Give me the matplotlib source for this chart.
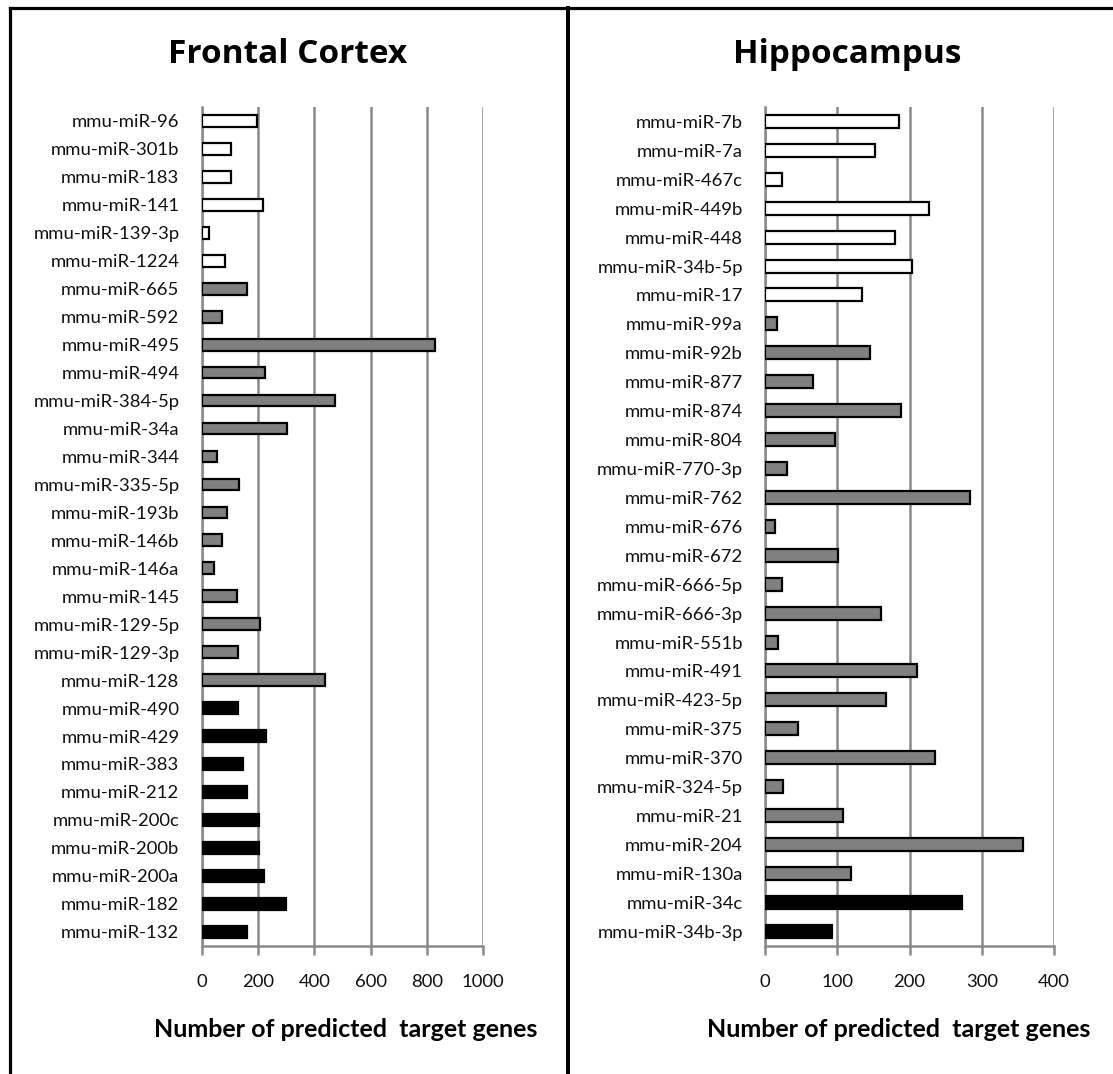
import matplotlib
matplotlib.use("Agg")
import matplotlib.pyplot as plt
from matplotlib.lines import Line2D

# ---------------- data ----------------
fc_labels = ["mmu-miR-96", "mmu-miR-301b", "mmu-miR-183", "mmu-miR-141", "mmu-miR-139-3p",
             "mmu-miR-1224", "mmu-miR-665", "mmu-miR-592", "mmu-miR-495", "mmu-miR-494",
             "mmu-miR-384-5p", "mmu-miR-34a", "mmu-miR-344", "mmu-miR-335-5p", "mmu-miR-193b",
             "mmu-miR-146b", "mmu-miR-146a", "mmu-miR-145", "mmu-miR-129-5p", "mmu-miR-129-3p",
             "mmu-miR-128", "mmu-miR-490", "mmu-miR-429", "mmu-miR-383", "mmu-miR-212",
             "mmu-miR-200c", "mmu-miR-200b", "mmu-miR-200a", "mmu-miR-182", "mmu-miR-132"]
fc_values = [195, 104, 104, 219, 27, 83, 162, 71, 828, 225,
             473, 304, 55, 134, 89, 71, 45, 124, 207, 130,
             438, 130, 227, 148, 160, 203, 203, 221, 299, 160]
fc_groups = ["w"] * 6 + ["g"] * 15 + ["k"] * 9

hc_labels = ["mmu-miR-7b", "mmu-miR-7a", "mmu-miR-467c", "mmu-miR-449b", "mmu-miR-448",
             "mmu-miR-34b-5p", "mmu-miR-17", "mmu-miR-99a", "mmu-miR-92b", "mmu-miR-877",
             "mmu-miR-874", "mmu-miR-804", "mmu-miR-770-3p", "mmu-miR-762", "mmu-miR-676",
             "mmu-miR-672", "mmu-miR-666-5p", "mmu-miR-666-3p", "mmu-miR-551b", "mmu-miR-491",
             "mmu-miR-423-5p", "mmu-miR-375", "mmu-miR-370", "mmu-miR-324-5p", "mmu-miR-21",
             "mmu-miR-204", "mmu-miR-130a", "mmu-miR-34c", "mmu-miR-34b-3p"]
hc_values = [185, 152, 23, 227, 180, 203, 134, 16, 145, 67,
             188, 97, 30, 284, 14, 101, 23, 161, 18, 210,
             167, 45, 235, 25, 108, 357, 119, 273, 93]
hc_groups = ["w"] * 7 + ["g"] * 20 + ["k"] * 2

fc_ticks = [0, 200, 400, 600, 800, 1000]
hc_ticks = [0, 100, 200, 300, 400]

titles = ["Frontal Cortex", "Hippocampus"]
xlabel = "Number of predicted  target genes"

group_colors = {"w": "#ffffff", "g": "#808080", "k": "#000000"}

# ---------------- figure ----------------
W, H = 1113, 1074
fig = plt.figure(figsize=(W / 100, H / 100), dpi=100)
plt.rcParams["font.family"] = ["Lato", "DejaVu Sans"]

def px_ax(x0, x1, y0, y1):
    return [x0 / W, 1 - y1 / H, (x1 - x0) / W, (y1 - y0) / H]

grid_col = "#8a8a8a"

panels = [
    dict(rect=px_ax(201.7, 483.3, 107, 945.7), labels=fc_labels, values=fc_values,
         groups=fc_groups, ticks=fc_ticks, title=titles[0], tx=0.306, lx=0.511, h=0.42),
    dict(rect=px_ax(765, 1054, 107, 945.7), labels=hc_labels, values=hc_values,
         groups=hc_groups, ticks=hc_ticks, title=titles[1], tx=0.285, lx=0.462, h=0.45),
]

for p in panels:
    ax = fig.add_axes(p["rect"])
    n = len(p["labels"])
    ypos = list(range(n))
    cols = [group_colors[g] for g in p["groups"]]
    ax.barh(ypos, p["values"], height=p["h"], color=cols, edgecolor="black",
            linewidth=1.6, zorder=3)
    ax.set_ylim(n - 0.5, -0.5)
    ax.set_xlim(p["ticks"][0], p["ticks"][-1])
    ax.set_xticks(p["ticks"])
    ax.set_yticks(ypos)
    ax.set_yticklabels(p["labels"], fontsize=13.3, color="#111111")
    ax.tick_params(axis="y", length=0, pad=16)
    ax.tick_params(axis="x", direction="out", length=6.5, width=1.8, color=grid_col,
                   labelsize=13.3, pad=14, labelcolor="#111111")
    for s in ["top", "right"]:
        ax.spines[s].set_visible(False)
    for s in ["left", "bottom"]:
        ax.spines[s].set_color(grid_col)
        ax.spines[s].set_linewidth(1.8)
    ax.xaxis.grid(True, color=grid_col, linewidth=1.8, zorder=0)
    ax.set_axisbelow(True)
    ax.text(p["tx"], 1.063, p["title"], transform=ax.transAxes, ha="center", va="center",
            fontsize=24, fontweight="bold", family=["Open Sans", "DejaVu Sans"])
    ax.set_xlabel(xlabel, fontsize=18, fontweight="bold", va="center")
    ax.xaxis.set_label_coords(p["lx"], -0.1005)

# panel frame lines
lw = 2.3
fig.add_artist(Line2D([10 / W, 1.0], [1 - 8 / H, 1 - 8 / H], color="black", lw=lw,
                      transform=fig.transFigure))
fig.add_artist(Line2D([10 / W, 10 / W], [0, 1 - 8 / H], color="black", lw=lw,
                      transform=fig.transFigure))
fig.add_artist(Line2D([568 / W, 568 / W], [0, 1 - 8 / H], color="black", lw=lw + 0.6,
                      transform=fig.transFigure))

fig.savefig("out.png", dpi=100, facecolor="white")
